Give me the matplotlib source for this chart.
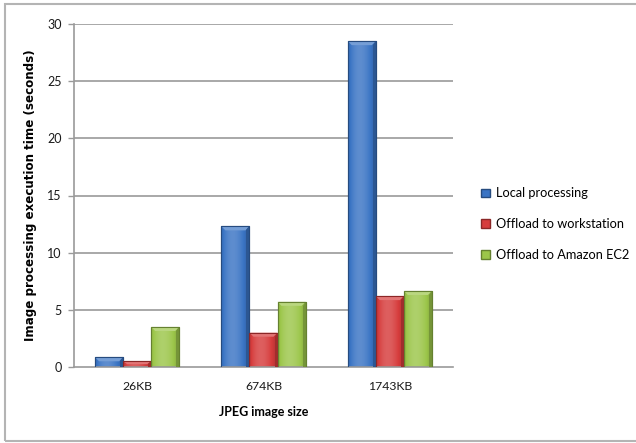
import numpy as np
import matplotlib
matplotlib.use('Agg')
import matplotlib.pyplot as plt
import matplotlib.colors as mcolors
from matplotlib.patches import Patch, Polygon, Rectangle


sizes = ['26KB', '674KB', '1743KB']
series_names = ['Local processing', 'Offload to workstation', 'Offload to Amazon EC2']
local_time = [0.85, 12.3, 28.5]
workstation_time = [0.5, 3.0, 6.2]
ec2_time = [3.5, 5.7, 6.65]
y_ticks = [0, 5, 10, 15, 20, 25, 30]

colors = ['#3a74c4', '#d63c3c', '#9cc64a']

plt.rcParams['font.family'] = ['Lato', 'DejaVu Sans']

fig = plt.figure(figsize=(6.36, 4.43), dpi=100)
ax = fig.add_axes([74 / 636, 76 / 443, 379 / 636, 343 / 443])

# outer chart frame
fig.patches.append(Rectangle((5 / 636, 2 / 443), 1.0, 437 / 443, transform=fig.transFigure,
                             fill=False, edgecolor='#b4b4b4', linewidth=1.5))

ax.set_xlim(-0.5, 2.5)
ax.set_ylim(0, 30)

for y in y_ticks[1:]:
    ax.axhline(y, color='#9a9a9a', linewidth=1.2, zorder=0)

x = np.arange(len(sizes))
width = 0.222
all_values = [local_time, workstation_time, ec2_time]

# pixel -> data conversion for the bevel size
px_x = 3.0 / 379
px_y = 30 / 343


def shade(color, f):
    c = np.array(mcolors.to_rgb(color))
    if f >= 0:
        return tuple(c + (1 - c) * f)
    return tuple(c * (1 + f))


for i, (vals, col) in enumerate(zip(all_values, colors)):
    bars = ax.bar(x + (i - 1) * width, vals, width, color=col, edgecolor=shade(col, -0.35),
                  linewidth=0.8, zorder=2)
    # horizontal shading across each bar
    t = np.linspace(0, 1, 64)
    f = 0.18 * np.exp(-((t - 0.4) / 0.35) ** 2) - 0.25 * (np.abs(t - 0.45) / 0.55) ** 3
    grad = np.array([[shade(col, v) for v in f]])
    for b in bars:
        x0, w, h = b.get_x(), b.get_width(), b.get_height()
        im = ax.imshow(grad, extent=[x0, x0 + w, 0, h], aspect='auto', zorder=2.5,
                       interpolation='bilinear')
        im.set_clip_path(b)
        bev = min(4 * px_y, h / 2)
        ax.add_patch(Polygon([(x0, h), (x0 + w, h), (x0 + w - 4 * px_x, h - bev), (x0 + 4 * px_x, h - bev)],
                             closed=True, facecolor=shade(col, 0.3), edgecolor='none', zorder=3))
        ax.add_patch(Polygon([(x0 + w, h), (x0 + w, 0), (x0 + w - 3 * px_x, 0), (x0 + w - 3 * px_x, h - bev)],
                             closed=True, facecolor=shade(col, -0.25), edgecolor='none', zorder=3))
        ax.add_patch(Rectangle((x0, 0), w, h, fill=False, edgecolor=shade(col, -0.35),
                               linewidth=0.8, zorder=3.5))

ax.set_xticks(x)
ax.set_xticklabels(sizes, fontsize=8.8, color='#1a1a1a')
ax.set_yticks(y_ticks)
ax.set_yticklabels([str(v) for v in y_ticks], fontsize=9, color='#1a1a1a')
ax.tick_params(axis='x', length=0, pad=10)
ax.tick_params(axis='y', length=4, width=1, color='#9a9a9a', pad=5)

for s in ['top', 'right']:
    ax.spines[s].set_visible(False)
for s in ['left', 'bottom']:
    ax.spines[s].set_color('#9a9a9a')
    ax.spines[s].set_linewidth(1.2)

ax.set_xlabel('JPEG image size', fontsize=9, fontweight='bold', labelpad=10)
ax.set_ylabel('Image processing execution time (seconds)', fontsize=8.6, fontweight='bold',
              family=['DejaVu Sans'], labelpad=7)

handles = [Patch(facecolor=c, edgecolor=shade(c, -0.35)) for c in colors]
fig.legend(handles, series_names, loc='center left', bbox_to_anchor=(470 / 636, 1 - 224 / 443),
           frameon=False, fontsize=9.2, handlelength=0.7, handleheight=0.7, handletextpad=0.4,
           labelspacing=1.45)

plt.savefig('out.png', dpi=100)
